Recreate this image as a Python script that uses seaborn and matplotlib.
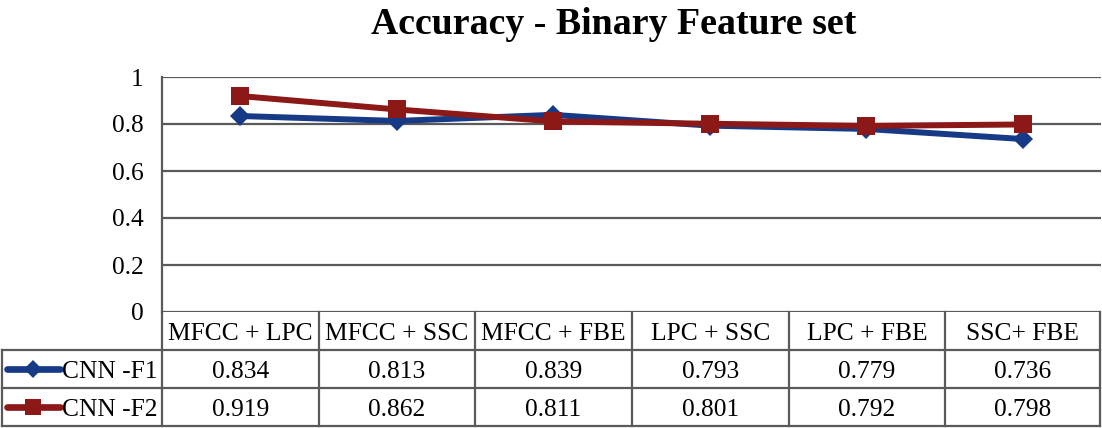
import matplotlib
matplotlib.use("Agg")
import numpy as np
import pandas as pd
import matplotlib.pyplot as plt
import seaborn as sns

# ---- data ----
categories = ["MFCC + LPC", "MFCC + SSC", "MFCC + FBE", "LPC + SSC", "LPC + FBE", "SSC+ FBE"]
cnn_f1 = [0.834, 0.813, 0.839, 0.793, 0.779, 0.736]
cnn_f2 = [0.919, 0.862, 0.811, 0.801, 0.792, 0.798]
series_names = ["CNN -F1", "CNN -F2"]
y_ticks = [0, 0.2, 0.4, 0.6, 0.8, 1]
y_tick_labels = ["0", "0.2", "0.4", "0.6", "0.8", "1"]
title = "Accuracy - Binary Feature set"

sns.set_theme(style="white")
plt.rcParams["font.family"] = ["Liberation Serif", "DejaVu Serif"]
plt.rcParams["text.color"] = "black"
plt.rcParams["ytick.color"] = "black"
plt.rcParams["xtick.color"] = "black"

W, H = 1102, 428
fig = plt.figure(figsize=(W / 100, H / 100), dpi=100)


def fr(x0, y0, x1, y1):
    return [x0 / W, 1 - y1 / H, (x1 - x0) / W, (y1 - y0) / H]


GRID = "#5a5a5a"
colors = {series_names[0]: "#173A87", series_names[1]: "#8C1818"}
markers = {series_names[0]: "D", series_names[1]: "s"}
msizes = {series_names[0]: 9.8, series_names[1]: 13.5}
FS = 18.4

ax = fig.add_axes(fr(162, 77, 1101, 312))
df = pd.DataFrame({
    "x": list(range(len(categories))) * 2,
    "val": cnn_f1 + cnn_f2,
    "series": [series_names[0]] * len(cnn_f1) + [series_names[1]] * len(cnn_f2),
})
sns.lineplot(data=df, x="x", y="val", hue="series", style="series",
             markers=markers, dashes=False, palette=colors, linewidth=4.3,
             markeredgewidth=0, ax=ax, legend=False)
for ln, name in zip(ax.lines, series_names):
    ln.set_markersize(msizes[name])
    ln.set_zorder(3)

ax.set_xlim(-0.5, len(categories) - 0.5)
ax.set_ylim(0, 1)
ax.set_yticks(y_ticks)
ax.set_yticklabels(y_tick_labels, fontsize=FS, color="black")
ax.set_xticks([])
ax.set_xlabel("")
ax.set_ylabel("")
ax.tick_params(axis="y", length=0, pad=13, colors="black")
ax.grid(axis="y", color=GRID, linewidth=1.6)
ax.set_axisbelow(True)
for s in ["top", "right", "bottom"]:
    ax.spines[s].set_visible(False)
ax.spines["left"].set_color(GRID)
ax.spines["left"].set_linewidth(1.6)
ax.patch.set_alpha(0)

# ---- data table ----
tax = fig.add_axes([0, 0, 1, 1], zorder=-1)
tax.set_xlim(0, W)
tax.set_ylim(H, 0)
tax.axis("off")

col_edges = [162, 319, 475, 632, 789, 945, 1100]
row_edges = [312, 350, 388, 426]
left = 2
for x in col_edges:
    tax.plot([x, x], [row_edges[0], row_edges[-1]], color=GRID, lw=1.6, solid_capstyle="projecting")
tax.plot([left, left], [row_edges[1], row_edges[-1]], color=GRID, lw=1.6, solid_capstyle="projecting")
for y in row_edges[1:]:
    tax.plot([left, col_edges[-1]], [y, y], color=GRID, lw=1.6, solid_capstyle="projecting")

centers = [(col_edges[i] + col_edges[i + 1]) / 2 for i in range(len(categories))]
hy = (row_edges[0] + row_edges[1]) / 2
for cx, cat in zip(centers, categories):
    tax.text(cx, hy, cat, ha="center", va="center_baseline", fontsize=FS, color="black")

leg_msizes = {series_names[0]: 9.0, series_names[1]: 12.0}
for r, (name, vals) in enumerate(zip(series_names, [cnn_f1, cnn_f2])):
    ry = (row_edges[r + 1] + row_edges[r + 2]) / 2
    tax.plot([7, 60], [ry, ry], color=colors[name], lw=4.8, solid_capstyle="round")
    tax.plot([33], [ry], marker=markers[name], color=colors[name],
             markersize=leg_msizes[name], markeredgewidth=0, linestyle="none")
    tax.text(62, ry, name, ha="left", va="center_baseline", fontsize=FS, color="black")
    for cx, v in zip(centers, vals):
        tax.text(cx, ry, f"{v:.3f}", ha="center", va="center_baseline", fontsize=FS, color="black")

fig.text(614 / W, 1 - 24 / H, title, ha="center", va="center",
         fontsize=27.3, fontweight="bold", color="black")

fig.savefig("out.png", dpi=100, facecolor="white")
